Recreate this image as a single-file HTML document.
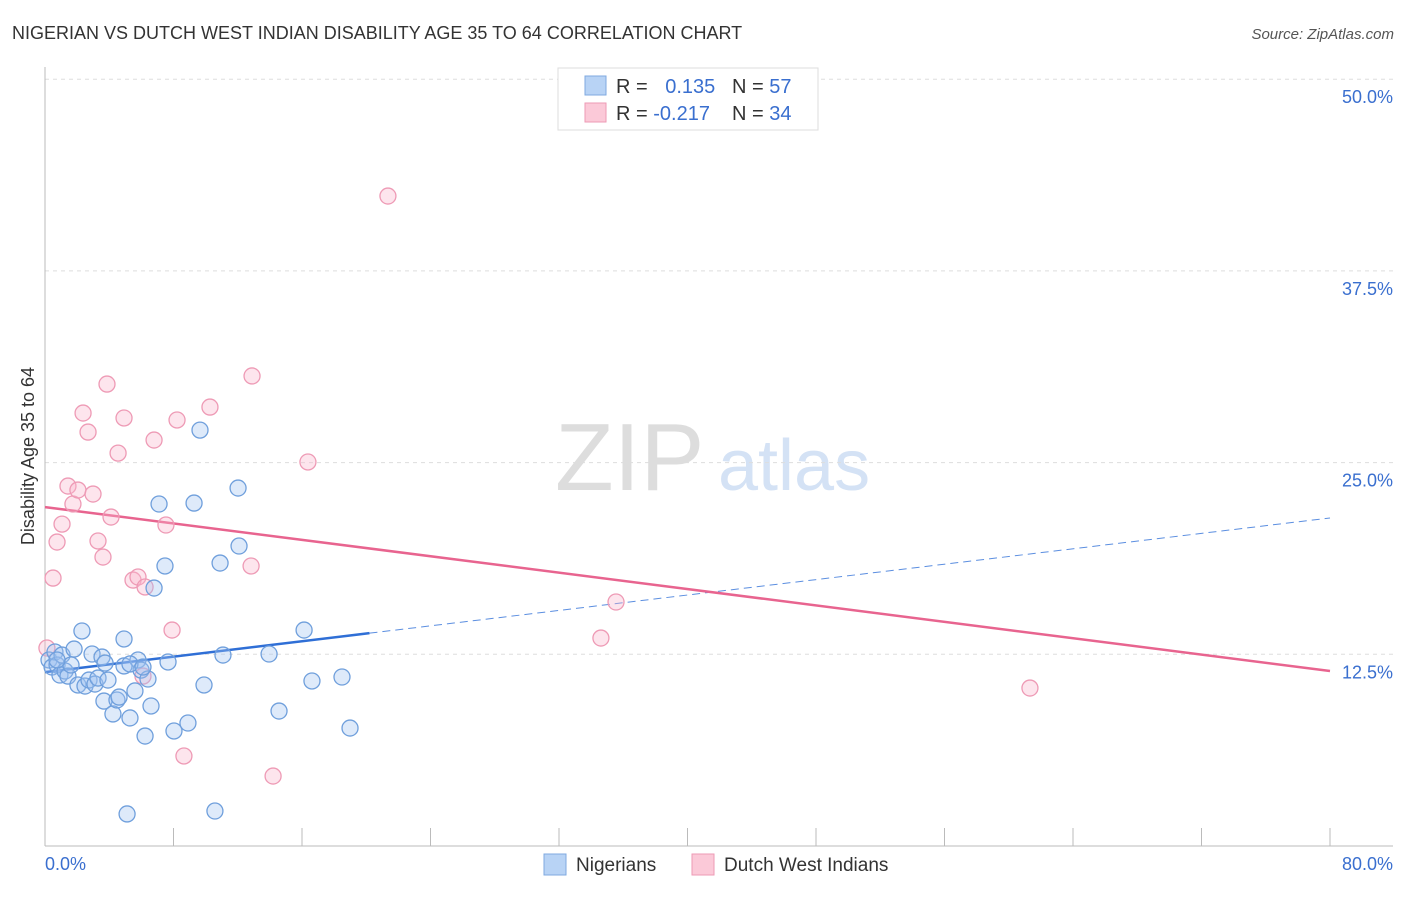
<!DOCTYPE html>
<html><head><meta charset="utf-8"><style>
body{margin:0;background:#fff;font-family:"Liberation Sans",sans-serif;}
svg text{font-family:"Liberation Sans",sans-serif;}
</style></head><body>
<svg id="c" width="1406" height="892" xmlns="http://www.w3.org/2000/svg">
<text x="12" y="39" font-size="18" fill="#333">NIGERIAN VS DUTCH WEST INDIAN DISABILITY AGE 35 TO 64 CORRELATION CHART</text>
<text x="1394" y="39" font-size="15" fill="#555" font-style="italic" text-anchor="end">Source: ZipAtlas.com</text>
<g>
<text x="555" y="490" font-size="96" fill="#ddd" font-family="Liberation Serif">ZIP</text>
<text x="718" y="490" font-size="72" fill="#d4e2f5">atlas</text>
</g>
<text transform="translate(34,456) rotate(-90)" font-size="18" fill="#333" text-anchor="middle">Disability Age 35 to 64</text>
<g id="grid"></g><g id="axes"></g><g id="lines"></g><g id="pts"></g>
<g>
<rect x="558" y="68" width="260" height="62" fill="#fff" stroke="#ddd"/>
<rect x="585" y="76" width="21" height="19" fill="#b8d3f5" stroke="#7fa9e0"/>
<rect x="585" y="103" width="21" height="19" fill="#fbc9d8" stroke="#ee9ab5"/>
<text x="616" y="93" font-size="20" fill="#333">R = <tspan fill="#3a6fcf" dx="12">0.135</tspan></text>
<text x="732" y="93" font-size="20" fill="#333">N = <tspan fill="#3a6fcf">57</tspan></text>
<text x="616" y="120" font-size="20" fill="#333">R = <tspan fill="#3a6fcf">-0.217</tspan></text>
<text x="732" y="120" font-size="20" fill="#333">N = <tspan fill="#3a6fcf">34</tspan></text>
</g>
<g>
<rect x="544" y="854" width="22" height="21" fill="#b8d3f5" stroke="#7fa9e0"/>
<text x="576" y="871" font-size="19" fill="#333">Nigerians</text>
<rect x="692" y="854" width="22" height="21" fill="#fbc9d8" stroke="#ee9ab5"/>
<text x="724" y="871" font-size="19" fill="#333">Dutch West Indians</text>
</g>
</svg>
<script>
const blueX=[0.25,0.44,0.62,0.75,0.93,1.06,1.25,1.43,1.62,1.81,2.05,2.30,2.49,2.74,2.93,3.11,3.30,3.55,3.74,3.92,3.67,4.23,4.48,4.61,4.92,4.92,5.29,5.60,5.79,5.98,6.23,6.41,6.60,6.79,7.10,7.47,7.66,8.03,8.90,9.28,9.65,9.90,10.58,10.90,11.08,12.02,12.08,13.95,14.57,16.13,16.62,18.49,18.99,5.11,5.29,6.10,0.75];
const blueY=[12.13,11.67,12.65,11.80,11.15,12.45,11.41,11.08,11.80,12.84,10.50,14.02,10.43,10.82,12.52,10.56,10.95,12.32,11.93,10.82,9.45,8.61,9.52,9.71,13.50,11.74,8.35,10.11,12.13,11.47,7.17,10.89,9.13,16.82,22.30,18.26,12.00,7.50,8.02,22.36,27.12,10.50,2.28,18.45,12.45,23.34,19.56,12.52,8.80,14.08,10.76,11.02,7.69,2.09,11.87,11.67,12.13];
const pinkX=[0.12,0.50,0.75,1.06,1.43,1.74,2.05,2.37,2.68,2.99,3.30,3.61,3.86,4.11,4.55,4.92,5.48,5.79,6.23,6.79,7.53,7.91,8.22,8.65,10.27,12.83,12.89,14.20,16.37,21.35,34.61,35.55,61.32,6.10];
const pinkY=[12.91,17.47,19.82,20.99,23.47,22.30,23.21,28.23,26.99,22.95,19.89,18.84,30.12,21.45,25.62,27.91,17.34,17.54,16.89,26.47,20.93,14.08,27.78,5.87,28.62,18.26,30.65,4.56,25.04,42.38,13.56,15.91,10.30,11.08];
const blueTrend=[11.34,21.39];
const pinkTrend=[22.10,11.41];
const yTicks=[12.5,25.0,37.5,50.0];
const xTickVals=[0,8,16,24,32,40,48,56,64,72,80];
const NS="http://www.w3.org/2000/svg";
const X=v=>45+v/80*1285, Y=v=>846-v/12.5*191.7;
function mk(t,a,p){const e=document.createElementNS(NS,t);for(const k in a)e.setAttribute(k,a[k]);document.getElementById(p).appendChild(e);return e;}
yTicks.forEach(t=>{
 const l=mk('line',{x1:45,x2:1393,y1:Y(t),y2:Y(t),stroke:'#ddd','stroke-dasharray':'4,4'},'grid');
 
 
 const tx=mk('text',{x:1393,y:Y(t)+24,'font-size':18,fill:'#3a6fcf','text-anchor':'end'},'grid');
 tx.textContent=t.toFixed(1)+'%';
 
 
});
let a=mk('line',{x1:45,x2:45,y1:67,y2:846,stroke:'#bbb'},'axes');


a=mk('line',{x1:45,x2:1393,y1:846,y2:846,stroke:'#bbb'},'axes');


xTickVals.forEach(v=>{
 const t=mk('line',{x1:X(v),x2:X(v),y1:828,y2:846,stroke:'#bbb'},'axes');
 
 
});
let xl=mk('text',{x:45,y:870,'font-size':18,fill:'#3a6fcf'},'axes');xl.textContent='0.0%';


xl=mk('text',{x:1393,y:870,'font-size':18,fill:'#3a6fcf','text-anchor':'end'},'axes');xl.textContent='80.0%';


const bAt=v=>blueTrend[0]+(blueTrend[1]-blueTrend[0])*v/80;
let ln=mk('line',{x1:X(0),y1:Y(bAt(0)),x2:X(20.2),y2:Y(bAt(20.2)),stroke:'#2f6fd6','stroke-width':2.5},'lines');


ln=mk('line',{x1:X(20.2),y1:Y(bAt(20.2)),x2:X(80),y2:Y(bAt(80)),stroke:'#5b8ee0','stroke-width':1,'stroke-dasharray':'8,5'},'lines');


ln=mk('line',{x1:X(0),y1:Y(pinkTrend[0]),x2:X(80),y2:Y(pinkTrend[1]),stroke:'#e8648f','stroke-width':2.5},'lines');


pinkX.forEach((v,i)=>{
 const c=mk('circle',{cx:X(v),cy:Y(pinkY[i]),r:8,fill:'rgba(248,180,202,0.35)',stroke:'#ee9ab5','stroke-width':1.3},'pts');
 
 
});
blueX.forEach((v,i)=>{
 const c=mk('circle',{cx:X(v),cy:Y(blueY[i]),r:8,fill:'rgba(160,196,240,0.35)',stroke:'#6f9fdc','stroke-width':1.3},'pts');
 
 
});
</script>
</body></html>
